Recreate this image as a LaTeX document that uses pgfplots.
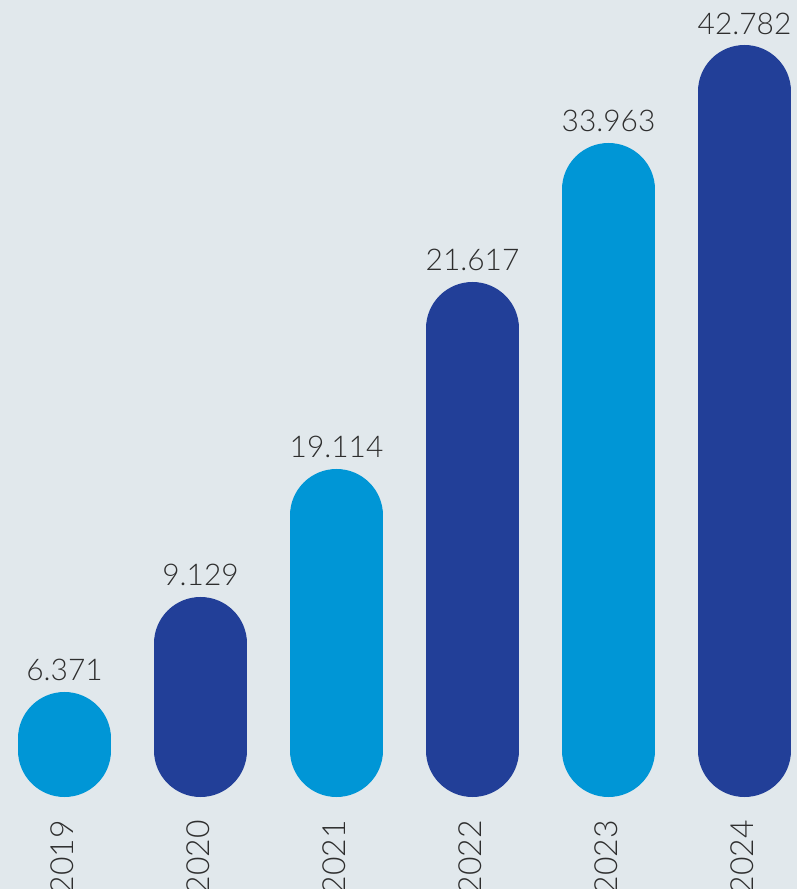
\documentclass[border=0pt]{standalone}
\usepackage{pgfplots}
\pgfplotsset{compat=1.18}
\usepackage{fontspec}
\setmainfont{Lato Light}
\definecolor{bgcol}{HTML}{E1E8EC}
\definecolor{lightbar}{HTML}{0096D6}
\definecolor{darkbar}{HTML}{223F98}
\definecolor{txt}{HTML}{2E2E2E}
\begin{document}
\begin{tikzpicture}
\fill[bgcol] (0,0) rectangle (797bp,889bp);
\begin{axis}[x=1bp, y=1bp, xmin=0, xmax=797, ymin=0, ymax=889,
  hide axis, clip=false, anchor=origin, at={(0,0)}]
% pill bars: line from bottom cap centre to top cap centre, round caps of radius 46.5
\addplot[lightbar, line width=93bp, line cap=round] coordinates {(64.5,138.5) (64.5,150.5)};
\addplot[darkbar, line width=93bp, line cap=round] coordinates {(200.5,138.5) (200.5,245.5)};
\addplot[lightbar, line width=93bp, line cap=round] coordinates {(336.5,138.5) (336.5,373.5)};
\addplot[darkbar, line width=93bp, line cap=round] coordinates {(472.5,138.5) (472.5,560.5)};
\addplot[lightbar, line width=93bp, line cap=round] coordinates {(608.5,138.5) (608.5,699.5)};
\addplot[darkbar, line width=93bp, line cap=round] coordinates {(744.5,138.5) (744.5,797.5)};
% value labels
\addplot[only marks, mark=none, point meta=explicit symbolic,
  nodes near coords, nodes near coords style={anchor=base, font=\fontsize{30}{30}\selectfont, text=txt, inner sep=0pt}]
  coordinates {(64.5,208)[6.371] (200.5,303)[9.129] (336.5,431)[19.114] (472.5,618)[21.617] (608.5,757)[33.963] (744.5,854)[42.782]};
% year labels
\addplot[only marks, mark=none, point meta=explicit symbolic,
  nodes near coords, nodes near coords style={rotate=90, anchor=east, font=\fontsize{32}{32}\selectfont, text=txt, inner sep=0pt}]
  coordinates {(62.5,69)[2019] (198.5,69)[2020] (334.5,69)[2021] (470.5,69)[2022] (606.5,69)[2023] (742.5,69)[2024]};
\end{axis}
\pgfresetboundingbox
\path (0,0) rectangle (797bp,889bp);
\end{tikzpicture}
\end{document}
